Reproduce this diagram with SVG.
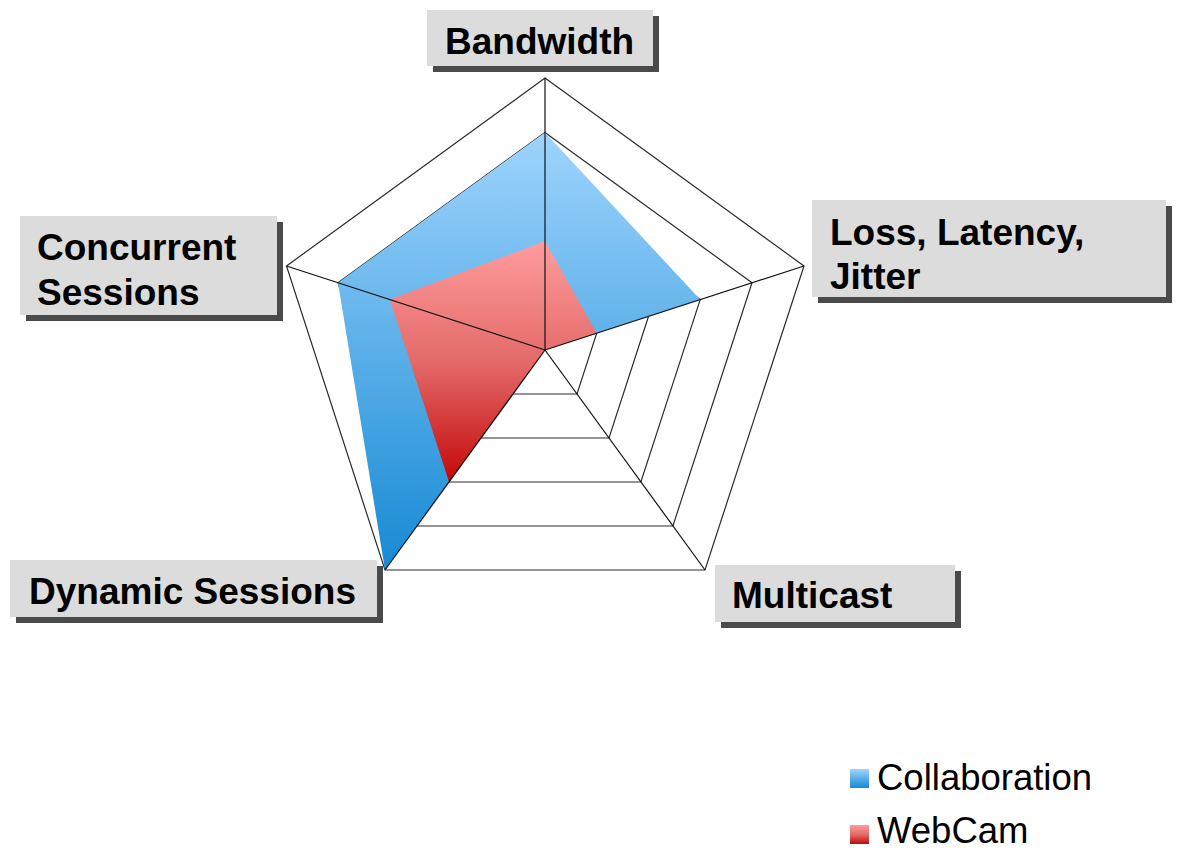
<svg xmlns="http://www.w3.org/2000/svg" width="1178" height="851" viewBox="0 0 1178 851">
<style>
.ring{fill:none;stroke:#2a2a2a;stroke-width:1.2;stroke-linejoin:miter}
.spoke{stroke:#111;stroke-width:1.2}
.box{fill:#dcdcdc}
.shadow{fill:#4a4a4a}
.lbl{font-family:"Liberation Sans",Arial,sans-serif;font-weight:bold;font-size:37px;fill:#000}
.leg{font-family:"Liberation Sans",Arial,sans-serif;font-size:36.5px;fill:#000}
</style>
<defs>
<linearGradient id="gBlue" x1="0" y1="0" x2="0" y2="1">
<stop offset="0" stop-color="#9fd4fd"/>
<stop offset="1" stop-color="#168ad4"/>
</linearGradient>
<linearGradient id="gRed" x1="0" y1="0" x2="0" y2="1">
<stop offset="0" stop-color="#ff9c9c"/>
<stop offset="0.5" stop-color="#e46a6a"/>
<stop offset="1" stop-color="#c40808"/>
</linearGradient>
</defs>
<rect width="1178" height="851" fill="#fff"/>
<g id="grid">
<polygon class="ring" points="545,295.6 596.7,333.2 577,394 513,394 493.3,333.2"/>
<polygon class="ring" points="545,241.2 648.5,316.4 609,438 481,438 441.5,316.4"/>
<polygon class="ring" points="545,186.8 700.2,299.6 640.9,482 449.1,482 389.8,299.6"/>
<polygon class="ring" points="545,132.4 752,282.8 672.9,526 417.1,526 338,282.8"/>
<polygon class="ring" points="545,78 804,266 705,570 385,570 286.5,266"/>
</g>
<g id="series-collaboration">
<polygon fill="url(#gBlue)" points="545,132.4 700.2,299.6 545,350 385,570 338,282.8"/>
</g>
<g id="series-webcam">
<polygon fill="url(#gRed)" points="545,241.2 596.7,333.2 545,350 449.1,482 389.8,299.6"/>
</g>
<g id="connectors">
<line class="spoke" x1="545" y1="350" x2="545" y2="78"/>
<line class="spoke" x1="545" y1="350" x2="804" y2="266"/>
<line class="spoke" x1="545" y1="350" x2="705" y2="570"/>
<line class="spoke" x1="545" y1="350" x2="385" y2="570"/>
<line class="spoke" x1="545" y1="350" x2="286.5" y2="266"/>
</g>
<g id="label-bandwidth">
<rect class="shadow" x="433" y="16" width="226" height="56"/>
<rect class="box" x="427" y="10" width="226" height="56"/>
<text class="lbl" x="445" y="54">Bandwidth</text>
</g>
<g id="label-loss">
<rect class="shadow" x="818" y="206" width="354" height="97"/>
<rect class="box" x="812" y="200" width="354" height="97"/>
<text class="lbl" x="830" y="245">Loss, Latency,</text>
<text class="lbl" x="830" y="289">Jitter</text>
</g>
<g id="label-concurrent">
<rect class="shadow" x="26" y="222" width="257" height="99"/>
<rect class="box" x="20" y="216" width="257" height="99"/>
<text class="lbl" x="37" y="260">Concurrent</text>
<text class="lbl" x="37" y="305">Sessions</text>
</g>
<g id="label-dynamic">
<rect class="shadow" x="16" y="566" width="367" height="57"/>
<rect class="box" x="10" y="560" width="367" height="57"/>
<text class="lbl" x="29" y="604">Dynamic Sessions</text>
</g>
<g id="label-multicast">
<rect class="shadow" x="721" y="571" width="240" height="57"/>
<rect class="box" x="715" y="565" width="240" height="57"/>
<text class="lbl" x="732" y="608">Multicast</text>
</g>
<g id="legend">
<rect x="850" y="769" width="19" height="19" fill="url(#gBlue)"/>
<text class="leg" x="877" y="790">Collaboration</text>
<rect x="850" y="825" width="19" height="19" fill="url(#gRed)"/>
<text class="leg" x="877" y="843">WebCam</text>
</g>
</svg>
